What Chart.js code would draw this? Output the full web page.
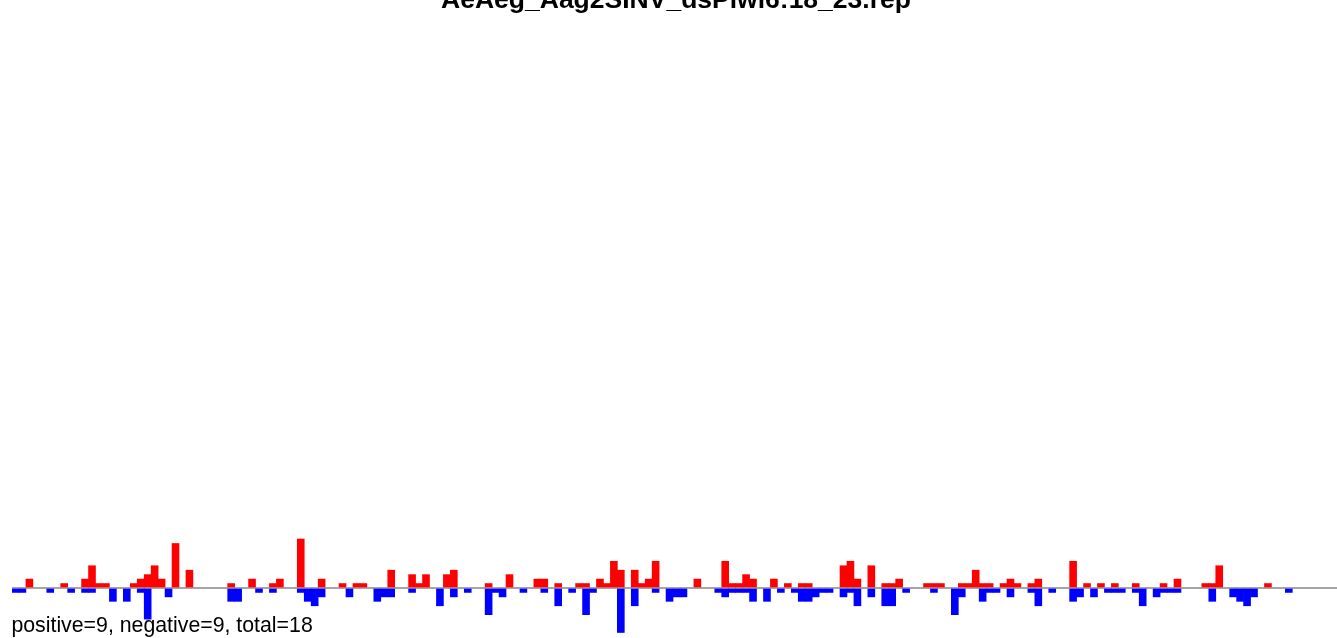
<!DOCTYPE html>
<html>
<head>
<meta charset="utf-8">
<script src="https://cdn.jsdelivr.net/npm/chart.js@4.4.1/dist/chart.umd.min.js"></script>
<style>
    body { margin: 0; overflow: hidden; background: #fff; width: 1337px; height: 638px; position: relative; }
    #wrap { position: absolute; left: 0; top: 0; width: 1341px; height: 638px; }
    #title {
        position: absolute; left: 0; top: -14.4px; width: 1352px;
        text-align: center; font: bold 26.5px "Liberation Sans", Arial, sans-serif; line-height: 1;
        color: #000; white-space: nowrap;
    }
    #counts {
        position: absolute; left: 11.4px; top: 614.5px;
        font: 21.3px "Liberation Sans", Arial, sans-serif; line-height: 1; color: #000; white-space: nowrap;
    }
</style>
</head>
<body>
<div id="wrap"><canvas id="repChart"></canvas></div>
<div id="title">AeAeg_Aag2SINV_dsPiwi6:18_23.rep</div>
<div id="counts">positive=9, negative=9, total=18</div>
<script>
// counts per position (red = positive, blue = negative)
const positive = [
    0, 0, 2, 0, 0, 0, 0, 1, 0, 0,
    2, 5, 1, 1, 0, 0, 0, 1, 2, 3,
    5, 2, 0, 10, 0, 4, 0, 0, 0, 0,
    0, 1, 0, 0, 2, 0, 0, 1, 2, 0,
    0, 11, 0, 0, 2, 0, 0, 1, 0, 1,
    1, 0, 0, 0, 4, 0, 0, 3, 1, 3,
    0, 0, 3, 4, 0, 0, 0, 0, 1, 0,
    0, 3, 0, 0, 0, 2, 2, 0, 1, 0,
    0, 1, 1, 0, 2, 1, 6, 4, 0, 4,
    1, 2, 6, 0, 0, 0, 0, 0, 2, 0,
    0, 0, 6, 1, 1, 3, 2, 0, 0, 2,
    0, 1, 0, 1, 1, 0, 0, 0, 0, 5,
    6, 2, 0, 5, 0, 1, 1, 2, 0, 0,
    0, 1, 1, 1, 0, 0, 1, 1, 4, 1,
    1, 0, 1, 2, 1, 0, 1, 2, 0, 0,
    0, 0, 6, 0, 1, 0, 1, 0, 1, 0,
    0, 1, 0, 0, 0, 1, 0, 2, 0, 0,
    0, 1, 1, 5, 0, 0, 0, 0, 0, 0,
    1, 0, 0, 0, 0, 0, 0, 0, 0, 0, 0
];

const negative = [
    -1, -1, 0, 0, 0, -1, 0, 0, -1, 0,
    -1, -1, 0, 0, -3, 0, -3, 0, -1, -7,
    0, 0, -2, 0, 0, 0, 0, 0, 0, 0,
    0, -3, -3, 0, 0, -1, 0, -1, 0, 0,
    0, -1, -3, -4, -2, 0, 0, 0, -2, 0,
    0, 0, -3, -2, -2, 0, 0, -1, 0, 0,
    0, -4, 0, -2, 0, -1, 0, 0, -6, -1,
    -2, 0, 0, -1, 0, 0, -1, 0, -4, 0,
    -1, 0, -6, -1, 0, 0, 0, -10, 0, -4,
    0, 0, -1, 0, -3, -2, -2, 0, 0, 0,
    0, -1, -2, -1, -1, -1, -3, 0, -3, 0,
    -1, 0, -1, -3, -3, -2, -1, -1, 0, -2,
    -1, -4, 0, -2, 0, -4, -4, 0, -1, 0,
    0, 0, -1, 0, 0, -6, -2, 0, 0, -3,
    -1, -1, 0, -2, 0, 0, -1, -4, 0, -1,
    0, 0, -3, -2, 0, -2, 0, -1, -1, -1,
    0, -1, -4, 0, -2, -1, -1, -1, 0, 0,
    0, 0, -3, 0, 0, -2, -3, -4, -2, 0,
    0, 0, 0, -1, 0, 0, 0, 0, 0, 0, 0
];

const positions = positive.map((v, i) => i + 1);

// y range so the zero line lands where the original has it
const yMin = -11.24;
const yMax = 132.13;

// empty positions get no bar at all
const noZero = arr => arr.map(v => (v === 0 ? null : v));

function renderRepChart() {
    const ctx = document.getElementById('repChart').getContext('2d');

    new Chart(ctx, {
        type: 'bar',
        data: {
            labels: positions,
            datasets: [{
                label: 'positive',
                data: noZero(positive),
                backgroundColor: '#ff0000',
                barPercentage: 1,
                categoryPercentage: 1,
                borderWidth: 0
            }, {
                label: 'negative',
                data: noZero(negative),
                backgroundColor: '#0000ff',
                barPercentage: 1,
                categoryPercentage: 1,
                borderWidth: 0
            }]
        },
        options: {
            responsive: true,
            maintainAspectRatio: false,
            animation: false,
            layout: { padding: { left: 12, right: 0, top: 0, bottom: 0 } },
            plugins: {
                title: { display: false },
                legend: { display: false },
                tooltip: { enabled: false }
            },
            scales: {
                x: {
                    display: false,
                    stacked: true
                },
                y: {
                    stacked: true,
                    min: yMin,
                    max: yMax,
                    afterBuildTicks: scale => { scale.ticks = [{ value: 0 }]; },
                    ticks: { display: false },
                    border: { display: false },
                    grid: {
                        drawTicks: false,
                        lineWidth: 2,
                        color: c => c.tick && c.tick.value === 0 ? '#a5a5a5' : 'rgba(0,0,0,0)'
                    }
                }
            }
        }
    });
}

renderRepChart();
</script>
</body>
</html>
